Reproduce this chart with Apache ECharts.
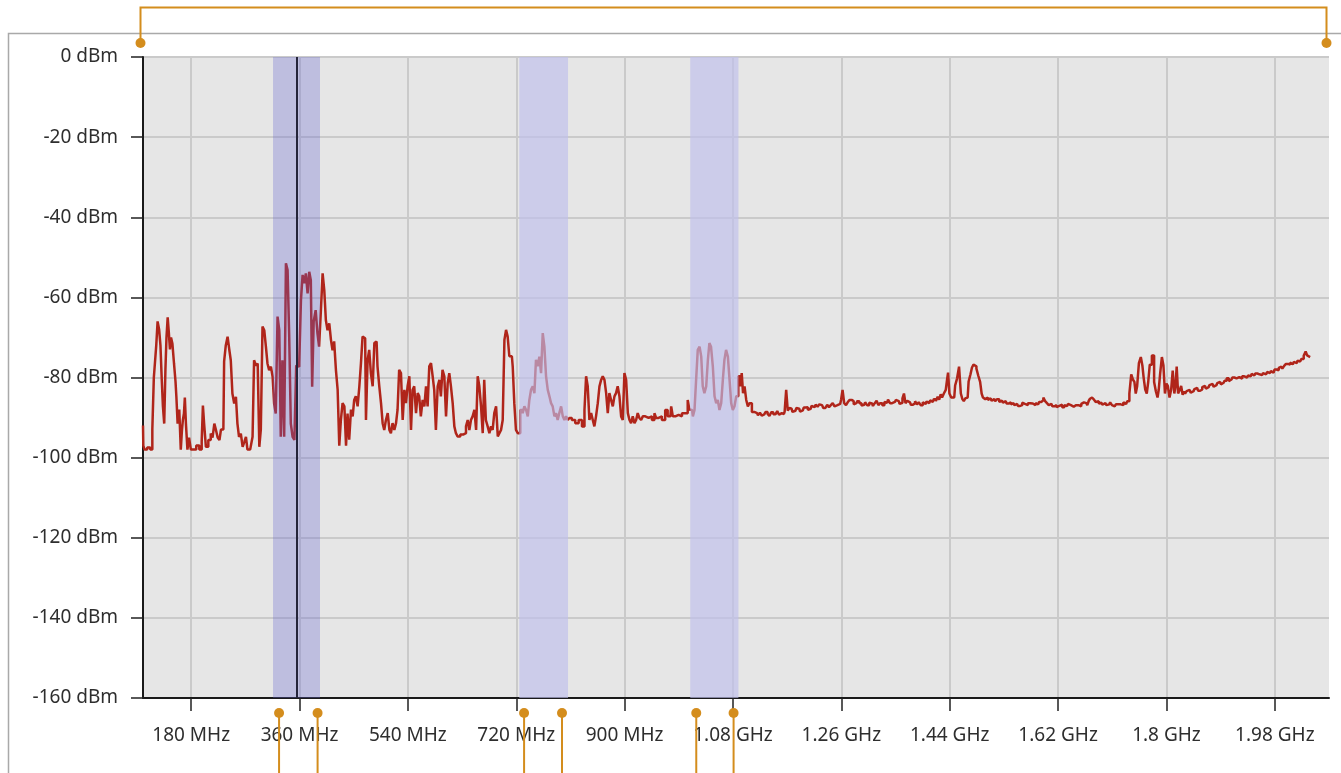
<!DOCTYPE html>
<html>
<head>
<meta charset="utf-8">
<script src="https://cdn.jsdelivr.net/npm/echarts@6.0.0/dist/echarts.min.js"></script>
<style>
  html, body { margin: 0; padding: 0; background: #fff; }
  #main { width: 1341px; height: 773px; }
</style>
</head>
<body>
<div id="main"></div>
<script>
// sweep trace, [MHz, dBm]
const traceLow = [
  [100,-92],[101,-97],[104,-98],[110,-97.5],[114,-98],[117,-93],[119,-80],[121,-76],[123,-72],[125.5,-66],
  [128,-68],[130,-72],[132,-80],[134,-87],[136.5,-91.5],[138,-78],[140,-70],[142,-65],[144,-69],[145.5,-73],
  [147.6,-70],[150,-71.5],[153,-76.5],[155,-81],[156,-85],[159,-91.5],[161.5,-88],[164,-98],[165.5,-93],[167,-90.6],
  [169,-89],[170,-85],[172.6,-91.5],[175,-98],[178,-95],[181,-98],[186,-98],[191,-97],[196,-98],[199,-96],
  [200,-87],[203,-91.5],[206,-97.3],[211,-95.6],[214,-94],[217,-95],[220,-91.5],[222,-93],[226,-95],[228,-95.6],
  [231,-93],[233.5,-93],[236,-76],[239,-72],[242,-69.8],[244.6,-73],[247,-75.7],[250,-84],[253,-86.5],[255.7,-84.8],
  [258,-91.5],[261,-94.8],[264,-94],[267,-97.3],[270,-96],[272,-94.8],[275,-98],[281,-98],[283,-94.8],[286,-75.7],
  [289,-77],[292,-76.5],[294.4,-97.3],[297,-93],[300,-67.3],[302.8,-68.2],[305.5,-72.3],[308,-76.5],[311,-78.2],[314,-77.3],
  [316.6,-79.8],[319,-86.5],[322,-89],[325,-64.8],[327.7,-68.2],[330,-94.8],[333,-75.7],[336,-94.8],[338.8,-51.5],[341.5,-53.2],
  [344,-69],[347,-91.5],[350,-94.8],[353,-95.6],[356,-77],[358,-77.3],[361,-76.5],[363.7,-60.7],[366.5,-54.4],[369,-56.5],
  [372,-54],[374.8,-59],[377.5,-53.6],[380,-55.7],[382,-82.3],[385,-66],[388.6,-63.2],[391,-69],[394,-72.3],[397,-63.2],
  [399.7,-54],[402.5,-58.2],[405,-65.7],[408,-68.2],[410.8,-66.5],[413.6,-70.6],[416,-73.2],[419,-71],[422,-78.2],[424.6,-83]
];
const traceMid = [
  [427.4,-97],[430,-90.6],[433,-86.4],[436,-87.2],[438.5,-97],[441,-89],[444,-95.5],[447,-88],[449.6,-89.7],[452,-85.6],
  [455,-84.7],[458,-87.2],[460.7,-82.2],[463.4,-76.4],[466,-69.8],[469,-70.2],[471.7,-90.6],[474.5,-75.6],[477,-73.1],[480,-78.9],
  [483,-82.2],[485.6,-71.4],[488,-71],[491,-77.2],[494,-82.2],[496.7,-86.4],[499.4,-91.4],[502,-93.1],[505,-90.6],[508,-88.9],
  [510.5,-93.1],[513,-93.9],[516,-91.4],[519,-93.1],[521.6,-91.4],[524,-88.1],[527,-78.1],[530,-78.9],[532.7,-90.6],[535.5,-83.1],
  [538,-86.4],[541,-82.2],[543.8,-79.7],[546.5,-93.1],[549,-83.1],[552,-82.2],[555,-88.9],[557.6,-83.9],[560,-84.7],[563,-89.7],
  [566,-85.6],[568.7,-87.2],[571.5,-82.2],[574,-87.2],[577,-77.2],[579.8,-76.4],[582.5,-79.7],[585,-83.1],[588,-93.1],[591,-82.2],
  [593.6,-80.6],[596,-84.7],[599,-78.1],[602,-79.7],[604.7,-89.7],[607.5,-81.4],[610,-78.9],[613,-82.2],[615.8,-86.4],[618.5,-92.2],
  [621,-93.9],[624,-94.7],[630,-94.2],[635,-93.9],[638,-92.2],[640.7,-90.6],[643.5,-93.1],[646,-90.6],[649,-89.7],[652,-88.1],
  [654.6,-93.1],[657.3,-79.7],[660,-82.2],[663,-87.2],[665.6,-93.9],[668,-80.6],[671,-90.6],[674,-92.2],[676.7,-93.9],[679.5,-92.2],
  [682,-93.1],[685,-88.9],[688,-87.2],[690.6,-94.7],[693.4,-93.9],[696,-93.1],[699,-90.6],[701.7,-70.6],[704.4,-68.1],[707,-69.8],
  [710,-74.7],[712.7,-74.7],[715.5,-77.2],[718,-86.4],[721,-93.1],[724,-93.9],
  [729.4,-88.1],[732,-88.9],[735,-87.2],[737.7,-88.1],[740.5,-89.7],[743,-85.6],[746,-83.1],[748.8,-82.2],[751.5,-83.9],[754,-75.6],
  [757,-77.2],[759.8,-74.8],[762.6,-78.9],[765.4,-68.9],[768,-72.3],[771,-79.7],[773.7,-83.1],[776.5,-84.7],[779,-86.4],[782,-87.2],
  [784.8,-89.7],[787.5,-88.9],[790,-90.6],[793,-88.9],[796,-87.2],[798.6,-89.7],[801.4,-90.6],[804,-89.7],[807,-90.6],[809.7,-90.1],
  [815,-90.6],[821,-91.4],[826.3,-90.6],[832,-92.2],[834.6,-88.1],[837.4,-79.7],[840,-82.2],[843,-90.6],[845.7,-88.9],[848.5,-90.6],
  [851,-92.2],[854,-89.7],[856.8,-86.4],[859.6,-82.2],[862.3,-80.6],[865,-79.7],[868,-80.6],[870.6,-83.9],[873.4,-88.9],[876,-83.9],
  [879,-85.6],[881.7,-87.2],[884.5,-84.7],[887,-83.9],[890,-82.2],[892.8,-84.7],[895.6,-89.7],[898.3,-90.6],[901,-78.9],[904,-80.6],
  [906.7,-88.9],[909.4,-90.6],[912,-91.4],[915,-89.7],[917.7,-91.4],[920.5,-90.6],[923,-88.9],[926,-90.1],[928.8,-90.6],[931.6,-89.7],
  [937,-90.1],[942.7,-89.7],[948,-90.6],[951,-88.9],[953.7,-90.1],[959,-89.7],[964.8,-90.6],[970,-88.1],[973,-89.7],[976,-89.7],
  [978.7,-87.2],[981.4,-89.7],[987,-89.3],[992.5,-89.7],[998,-88.9],[1003.6,-88.9],[1006,-85.6],[1009,-88],[1012,-88.1],[1014.7,-89.7],
  [1017.5,-88.1],[1020,-80.6],[1023,-73.1],[1026,-72.3],[1028.5,-74.8],[1031,-82.2],[1034,-83.9],[1037,-82.2],[1039.6,-75.6],[1042,-71.4],
  [1045,-72.3],[1048,-77.2],[1050.7,-84.7],[1053.5,-86.4],[1056,-85.6],[1059,-88.1],[1061.8,-86.4],[1064.5,-80.6],[1067,-75.6],[1070,-73.1],
  [1073,-74.8],[1075.6,-80.6],[1078.4,-86.4],[1081,-88.1],[1084,-87.2],[1086.7,-84.7],[1091,-79.7],[1093.4,-82.2],[1095.6,-78.9],[1097.8,-83.9],
  [1100.6,-82.2],[1103.4,-85.6],[1106,-87.2],[1109,-86.4]
];
const traceHigh = [
  [1113.8,-88.6],[1117,-88.2],[1120,-88.9],[1123,-89.4],[1126.5,-88.8],[1129,-89.5],[1132,-89.2],[1136,-88.6],[1139,-89.1],[1142,-89.6],
  [1145,-88.7],[1149,-89.2],[1152,-88.8],[1155,-88.4],[1158,-89.3],[1161,-88.9],[1164.6,-89.1],[1167,-88.5],[1169.7,-83.1],[1172.3,-88.3],
  [1175,-87.6],[1177.4,-87.8],[1180,-88.6],[1183.7,-88.3],[1187,-87.6],[1190,-87.8],[1193,-88.5],[1196,-88.2],[1199,-87.5],[1202.8,-87.4],
  [1206,-88.1],[1209,-87.8],[1212,-87.1],[1215.5,-87.4],[1219,-86.8],[1222,-87.3],[1225,-86.7],[1228,-86.9],[1232,-87.6],[1235,-87.3],
  [1238,-86.8],[1241,-87.4],[1244,-86.9],[1247.3,-86.4],[1250,-87.2],[1253.6,-86.9],[1258,-86.6],[1261,-85.6],[1263,-83.1],[1266.4,-86.4],
  [1269,-86.9],[1272,-86.2],[1275,-85.6],[1279,-85.9],[1282,-86.7],[1285,-86.4],[1288,-85.9],[1291.8,-86.4],[1295,-87],[1298,-86.8],
  [1301,-86.2],[1304.5,-86.9],[1308,-86.3],[1311,-86.5],[1314,-87.1],[1317,-86.4],[1320,-85.8],[1323,-86.9],[1326,-86.4],[1330,-86.9],
  [1333,-86.1],[1336,-86.3],[1339,-85.5],[1342.6,-86.4],[1346,-86.8],[1349,-86.1],[1352,-85.6],[1355.4,-85.9],[1358,-86.6],[1360,-86.3],
  [1363,-85.2],[1365,-84],[1368,-86.4],[1371,-85.8],[1374,-86.2],[1377,-86.8],[1380.8,-86.4],[1384,-85.9],[1387,-86.7],[1390,-86.2],
  [1393.5,-86.9],[1397,-86.2],[1400,-86.6],[1403,-86],[1406,-86.4],[1409,-85.7],[1412,-86.1],[1415,-85.4],[1419,-85.9],[1421,-84.8],
  [1424,-85.5],[1426,-84.2],[1428.5,-85],[1432,-84],[1434.8,-83.1],[1436.5,-80.5],[1438,-78.8],[1441,-84],[1444,-85],[1447.5,-85],
  [1450.5,-82],[1454,-80.2],[1457,-77.3],[1460,-84],[1462,-85.4],[1464.7,-85.9],[1467,-85.2],[1469.8,-85],[1473,-81],[1476,-79.2],
  [1478,-77.5],[1481,-76.8],[1483,-77.2],[1485.7,-77.8],[1489,-79.5],[1492,-81.1],[1494,-84],[1496.5,-85],[1499,-85.4],[1501.6,-85],
  [1505,-85.6],[1508,-85.2],[1511,-85.8],[1514,-85.4],[1517,-85.9],[1520.6,-85.4],[1524,-86.1],[1527,-85.8],[1530,-86.3],[1533,-85.9],
  [1536,-86.5],[1540,-86.2],[1543,-86.7],[1546,-86.4],[1549,-86.9],[1552,-86.6],[1555,-87.1],[1558.8,-86.9],[1562,-86.3],[1565,-86.6],
  [1568,-86.9],[1571.5,-86.4],[1575,-86.1],[1578,-86.5],[1581,-86.9],[1584,-86.4],[1587,-86.7],[1590,-86.1],[1594,-85.7],[1597,-85],
  [1600,-85.9],[1603,-86.4],[1606,-86.9],[1609,-86.6],[1612,-87.2],[1616,-86.9],[1619,-87.4],[1622,-87.1],[1625,-86.8],[1628.7,-87.4],
  [1632,-86.9],[1635,-87.1],[1638,-86.6],[1641.4,-86.9],[1644,-87.3],[1648,-86.9],[1651,-86.5],[1654,-86.9],[1657,-87.2],[1660,-86.6],
  [1663,-86.2],[1667,-86.4],[1670,-86.9],[1672,-85.8],[1674,-85.3],[1676.4,-85],[1679,-85.3],[1681,-85.6],[1684,-86.1],[1686,-85.9],
  [1689,-86.5],[1692,-86.3],[1695,-86.8],[1698.6,-86.4],[1702,-86.9],[1705,-86.7],[1708,-86.2],[1711,-86.9],[1714,-87.2],[1718,-86.7],
  [1721,-86.3],[1724,-86.7],[1727,-86.9],[1730,-86.2],[1733,-86.6],[1736.8,-85.9],[1740,-84],[1743,-79.2],[1745.5,-80.5],[1748,-81.1],
  [1750,-84],[1752.7,-82.1],[1755.8,-76.4],[1759,-74.9],[1761,-77],[1763.5,-80.2],[1766,-83],[1768.6,-84],[1771,-81],[1773.6,-76.8],
  [1778,-74.5],[1781,-81.1],[1784,-83.5],[1786.4,-85],[1788,-83],[1790.8,-79.2],[1794,-74.9],[1796,-77],[1799,-84],[1801,-81.5],
  [1803.5,-82.1],[1806.7,-85],[1809,-83],[1811.8,-78.3],[1814.3,-84],[1816,-82],[1818,-77.3],[1820.7,-84],[1823,-83.2],[1825.8,-82.1],
  [1828,-84.3],[1830,-83.5],[1832,-84],[1835,-83.4],[1838.5,-83.1],[1842,-83.8],[1845,-83.4],[1848,-82.9],[1851,-82.6],[1854,-83.3],
  [1858,-83],[1861,-82.4],[1864,-82.1],[1867,-82.8],[1870,-82.4],[1873,-81.9],[1876.6,-81.6],[1880,-82.3],[1883,-81.9],[1886,-81.4],
  [1889,-81.1],[1892,-81.7],[1895,-81.3],[1898,-80.8],[1902,-80.2],[1905,-80.9],[1908,-80.5],[1911,-80],[1914.8,-80.2],[1918,-80.6],
  [1921,-79.9],[1924,-80.3],[1927.5,-79.7],[1931,-79.4],[1934,-80],[1937,-79.5],[1940,-79.7],[1943,-79.1],[1946,-79.5],[1949,-79],
  [1953,-79.2],[1956,-78.8],[1959,-79.4],[1962,-78.9],[1965.6,-79.2],[1969,-78.6],[1972,-78.9],[1975,-78.4],[1978,-78.8],[1981,-78],
  [1985,-78.2],[1988,-77.6],[1991,-77.3],[1994,-77.8],[1997,-77.1],[2000,-76.6],[2003.8,-76.8],[2007,-76.3],[2010,-76.7],[2013,-76.1],
  [2016.5,-76.4],[2019,-75.8],[2022,-76],[2026,-75.4],[2030,-74.6],[2032.4,-73.5],[2035,-74.5],[2038.7,-74.9]
];

// highlighted channels (MHz) and the marker cursor
const bandStart = [316, 725, 1009];
const bandEnd = [394, 806, 1089];
const bandShade = [1, 0, 0];
const cursorMHz = 355;
// orange callout pins under the axis
const pinMHz = [326, 390, 733, 796, 1019, 1081];

const xTicks = [180, 360, 540, 720, 900, 1080, 1260, 1440, 1620, 1800, 1980];

const orange = '#d48d1d';
const labelFont = { fontFamily: 'Noto Sans', fontSize: 19, color: '#2e2e2e' };

const main = document.getElementById('main');
const chart = echarts.init(main);

const option = {
  animation: false,
  grid: {
    left: 143, right: 12, top: 57, bottom: 75,
    show: true, backgroundColor: '#e6e6e6', borderWidth: 0
  },
  xAxis: {
    type: 'value', min: 100, max: 2070,
    axisLine: { onZero: false, lineStyle: { color: '#1a1a1a', width: 2 } },
    axisTick: { customValues: xTicks, length: 13, lineStyle: { color: '#222', width: 1.5 } },
    axisLabel: Object.assign({
      customValues: xTicks, margin: 28,
      formatter: (v) => (v < 1000 ? v + ' MHz' : (v / 1000) + ' GHz')
    }, labelFont),
    splitLine: { show: true, lineStyle: { color: '#cacaca', width: 2 } }
  },
  yAxis: {
    type: 'value', min: -160, max: 0, interval: 20,
    axisLine: { show: true, onZero: false, lineStyle: { color: '#1a1a1a', width: 2 } },
    axisTick: { show: true, length: 12, lineStyle: { color: '#222', width: 1.5 } },
    axisLabel: Object.assign({ margin: 25, formatter: '{value} dBm' }, labelFont),
    splitLine: { show: true, lineStyle: { color: '#cacaca', width: 2 } }
  },
  series: [
    {
      name: 'trace',
      type: 'line',
      z: 2,
      step: 'middle',
      showSymbol: false,
      data: traceLow.concat(traceMid, traceHigh),
      lineStyle: { color: '#b0251a', width: 2.5 },
      markLine: {
        silent: true,
        symbol: ['none', 'none'],
        label: { show: false },
        lineStyle: { color: '#24243a', width: 2, type: 'solid' },
        data: [{ xAxis: cursorMHz }]
      }
    },
    {
      name: 'bands',
      type: 'custom',
      z: 3,
      silent: true,
      encode: { x: [0, 1] },
      data: bandStart.map((s, i) => [s, bandEnd[i], bandShade[i]]),
      renderItem: (params, api) => {
        const a = api.coord([api.value(0), 0]);
        const b = api.coord([api.value(1), -160]);
        return {
          type: 'rect',
          shape: { x: a[0], y: a[1], width: b[0] - a[0], height: b[1] - a[1] },
          style: {
            fill: api.value(2) ? 'rgba(100,100,210,0.3)' : 'rgba(190,190,236,0.65)'
          }
        };
      }
    }
  ]
};

chart.setOption(option);

// outer frame + orange callouts, placed from axis values
const topLeft = chart.convertToPixel({ gridIndex: 0 }, [100, 0]);
const bottomRight = chart.convertToPixel({ gridIndex: 0 }, [2070, -160]);
const pinY = bottomRight[1] + 15;
const bracketY = topLeft[1] - 14;
const lx = topLeft[0] - 2.5;
const rx = bottomRight[0] - 2.5;

const graphics = [
  {
    type: 'rect', z: 0, silent: true,
    shape: { x: 8.5, y: 33.5, width: 1400, height: 800 },
    style: { fill: 'none', stroke: '#a9a9a9', lineWidth: 1.5 }
  },
  {
    type: 'polyline', z: 50, silent: true,
    shape: { points: [[lx, bracketY], [lx, 7.5], [rx, 7.5], [rx, bracketY]] },
    style: { stroke: orange, lineWidth: 2, fill: 'none' }
  },
  { type: 'circle', z: 51, shape: { cx: lx, cy: bracketY, r: 5 }, style: { fill: orange } },
  { type: 'circle', z: 51, shape: { cx: rx, cy: bracketY, r: 5 }, style: { fill: orange } }
];
pinMHz.forEach((f) => {
  const x = chart.convertToPixel({ gridIndex: 0 }, [f, -160])[0];
  graphics.push({
    type: 'line', z: 50, silent: true,
    shape: { x1: x, y1: pinY, x2: x, y2: 780 },
    style: { stroke: orange, lineWidth: 2 }
  });
  graphics.push({ type: 'circle', z: 51, shape: { cx: x, cy: pinY, r: 5 }, style: { fill: orange } });
});

chart.setOption({ graphic: graphics });
</script>
</body>
</html>
